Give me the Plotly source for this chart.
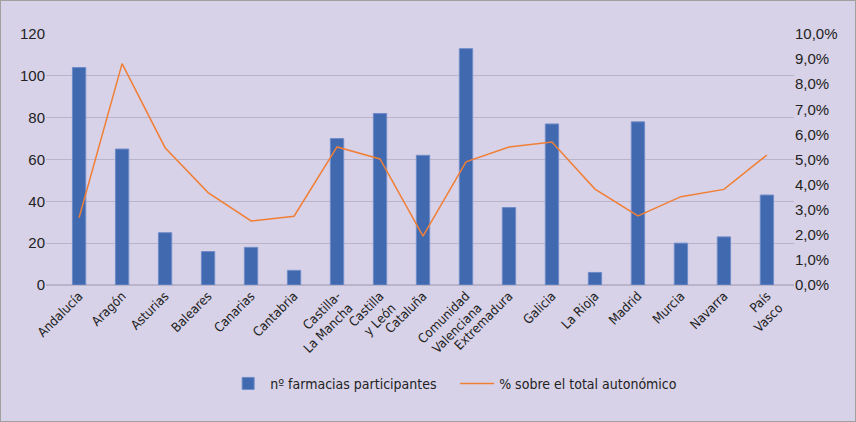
import plotly.graph_objects as go

# datos
comunidades = ["Andalucía", "Aragón", "Asturias", "Baleares", "Canarias", "Cantabria",
               "Castilla-<br>La Mancha", "Castilla<br>y León", "Cataluña",
               "Comunidad<br>Valenciana", "Extremadura", "Galicia", "La Rioja",
               "Madrid", "Murcia", "Navarra", "País<br>Vasco"]
farmacias = [104, 65, 25, 16, 18, 7, 70, 82, 62, 113, 37, 77, 6, 78, 20, 23, 43]
porcentaje = [2.68, 8.82, 5.47, 3.68, 2.55, 2.74, 5.50, 5.02, 1.95, 4.91,
              5.50, 5.70, 3.82, 2.75, 3.52, 3.81, 5.18]

estrecha = "DejaVu Sans Condensed, Liberation Sans Narrow, sans-serif"
fuente = "Liberation Sans, Arial, sans-serif"
fondo = "#D8D2E8"
rejilla = "#B9B4C9"

fig = go.Figure()
fig.add_trace(go.Bar(x=comunidades, y=farmacias, name="nº farmacias participantes",
                     marker=dict(color="#4169B0", line=dict(color="#6F8CC8", width=1)),
                     width=0.31))
fig.add_trace(go.Scatter(x=comunidades, y=porcentaje, name="% sobre el total autonómico",
                         yaxis="y2", mode="lines",
                         line=dict(color="#F07F35", width=1.5)))

fig.update_layout(
    width=856, height=422,
    paper_bgcolor=fondo, plot_bgcolor=fondo,
    separators=",.",
    font=dict(family=fuente, size=14, color="#222222"),
    margin=dict(l=46, r=62, t=34, b=137),
    xaxis=dict(range=[-0.77, 16.63], tickangle=-45, showgrid=False, automargin=False,
               tickfont=dict(family=estrecha, size=13), ticks="", showline=False),
    yaxis=dict(range=[0, 120], dtick=20, gridcolor=rejilla, gridwidth=1, automargin=False,
               zeroline=True, zerolinecolor=rejilla, ticks="", ticklen=0,
               tickfont=dict(size=15)),
    yaxis2=dict(range=[0, 10], dtick=1, overlaying="y", side="right", automargin=False,
                showgrid=False, zeroline=False, tickformat=".1f", ticksuffix="%",
                tickfont=dict(size=15)),
    legend=dict(orientation="h", x=0.547, xanchor="center", y=-0.33, yanchor="top",
                font=dict(family=estrecha, size=14), bgcolor="rgba(0,0,0,0)",
                traceorder="normal", entrywidth=180, itemwidth=34),
    shapes=[dict(type="rect", xref="paper", yref="paper", x0=-46/748, x1=1+62/748,
                 y0=-137/251, y1=1+34/251, line=dict(color="#A0A0A0", width=2))],
)

fig.write_html("out.html", config={"displayModeBar": False},
               post_script="document.body.style.margin='0';")
